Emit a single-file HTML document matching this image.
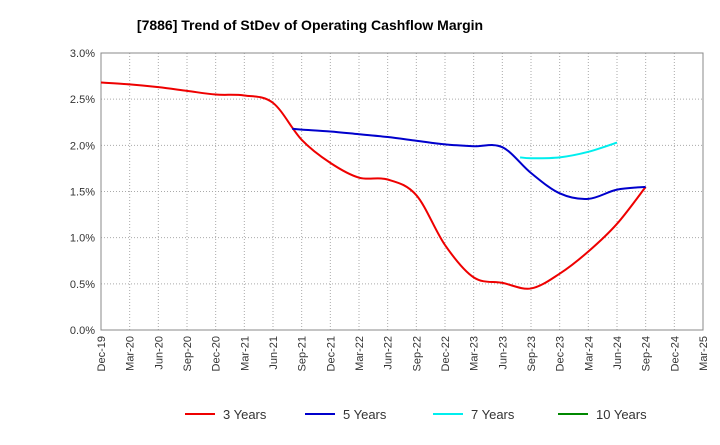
<!DOCTYPE html>
<html><head><meta charset="utf-8"><style>
body{margin:0;background:#fff;font-family:"Liberation Sans",sans-serif}
</style></head><body>
<svg id="c" width="720" height="440" xmlns="http://www.w3.org/2000/svg">
<text x="310" y="30" text-anchor="middle" font-size="14" font-weight="bold">[7886]  Trend of StDev of Operating Cashflow Margin</text>
</svg>
<script>
const xLabels=["Dec-19","Mar-20","Jun-20","Sep-20","Dec-20","Mar-21","Jun-21","Sep-21","Dec-21","Mar-22","Jun-22","Sep-22","Dec-22","Mar-23","Jun-23","Sep-23","Dec-23","Mar-24","Jun-24","Sep-24","Dec-24","Mar-25"];
const yTicks=[0,0.5,1.0,1.5,2.0,2.5,3.0];
const s3=[2.68,2.66,2.63,2.59,2.55,2.54,2.46,2.06,1.81,1.65,1.63,1.46,0.92,0.57,0.51,0.45,0.61,0.85,1.15,1.55];
const s5=[2.18,2.17,2.15,2.12,2.09,2.05,2.01,1.99,1.98,1.70,1.48,1.42,1.52,1.55];
const s7=[1.87,1.86,1.87,1.93,2.03];
const s10=[];
const seriesNames=["3 Years","5 Years","7 Years","10 Years"];
const seriesStart=[0,6.67,14.62,0];
const colors=["#e00","#00c","#0ee","#080"];
const L=101,R=703,T=53,B=330;
const X=i=>L+i*(R-L)/(xLabels.length-1);
const Y=v=>B-v/3*(B-T);
const svg=document.getElementById('c');const NS="http://www.w3.org/2000/svg";
function mk(t,a){const e=document.createElementNS(NS,t);for(const k in a)e.setAttribute(k,a[k]);svg.appendChild(e);return e;}
xLabels.forEach((l,i)=>{const g=mk('line',{x1:X(i),x2:X(i),y1:T,y2:B,stroke:'#aaa','stroke-dasharray':'1,2'});


const t=mk('text',{transform:`translate(${X(i)+4},${B+6}) rotate(-90)`,'text-anchor':'end','font-size':'11',fill:'#333'});t.textContent=l;

});
yTicks.forEach(v=>{const g=mk('line',{x1:L,x2:R,y1:Y(v),y2:Y(v),stroke:'#aaa','stroke-dasharray':'1,2'});


const t=mk('text',{x:L-6,y:Y(v)+4,'text-anchor':'end','font-size':'11',fill:'#333'});t.textContent=v.toFixed(1)+'%';

});
const ax=mk('rect',{x:L,y:T,width:R-L,height:B-T,fill:'none',stroke:'#888'});


function path(pts){let d=`M${pts[0][0]},${pts[0][1]}`;for(let i=0;i<pts.length-1;i++){const p0=pts[Math.max(0,i-1)],p1=pts[i],p2=pts[i+1],p3=pts[Math.min(pts.length-1,i+2)];
d+=` C${p1[0]+(p2[0]-p0[0])/6},${p1[1]+(p2[1]-p0[1])/6} ${p2[0]-(p3[0]-p1[0])/6},${p2[1]-(p3[1]-p1[1])/6} ${p2[0]},${p2[1]}`;}return d;}
function xi(k,i){const st=seriesStart[k];if(st%1===0)return st+i;return i===0?st:Math.ceil(st)+i-1;}
[s3,s5,s7,s10].forEach((s,k)=>{if(s.length<2)return;const pts=s.map((v,i)=>[X(xi(k,i)),Y(v)]);
const p=mk('path',{d:path(pts),fill:'none',stroke:colors[k],'stroke-width':2});

});
const lx=[185,305,433,558];
seriesNames.forEach((n,k)=>{const l=mk('line',{x1:lx[k],x2:lx[k]+30,y1:414,y2:414,stroke:colors[k],'stroke-width':2});


const t=mk('text',{x:lx[k]+38,y:419,'font-size':'13',fill:'#333'});t.textContent=n;

});
</script>
</body></html>
